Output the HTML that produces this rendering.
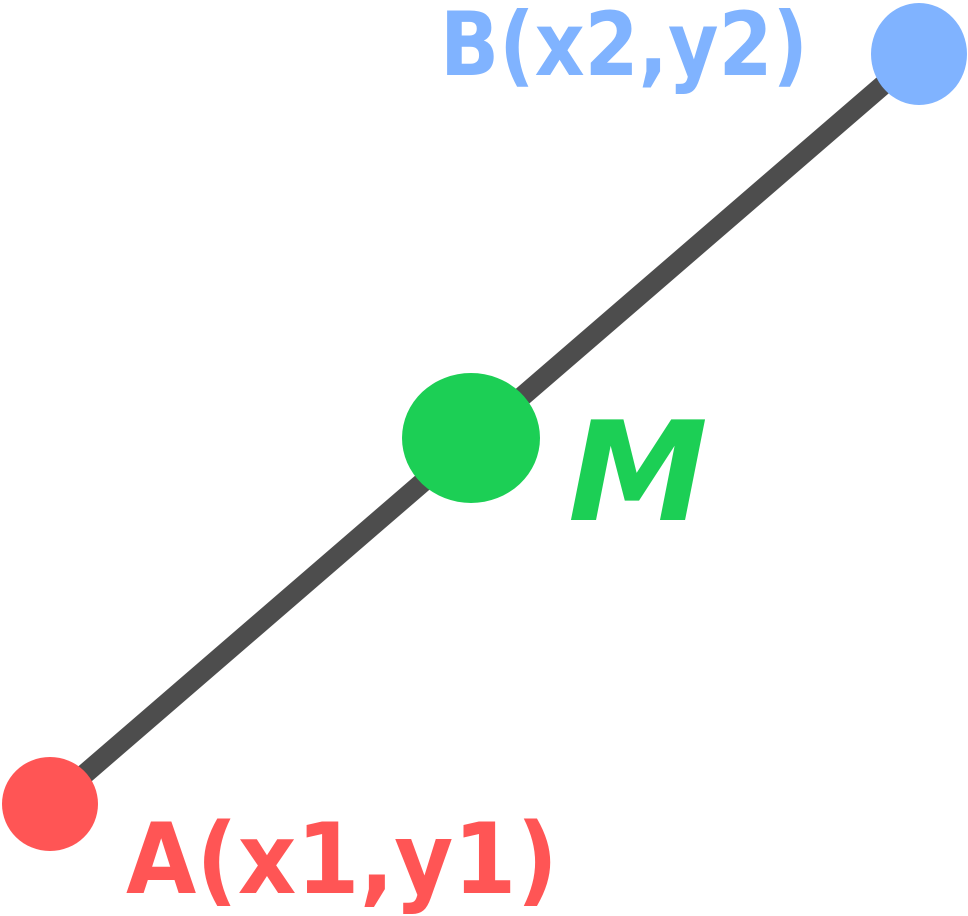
<!DOCTYPE html>
<html><head><meta charset="utf-8"><style>
html,body{margin:0;padding:0;background:#fff;}
svg{display:block}
</style></head><body>
<svg width="968" height="916" viewBox="0 0 968 916" xmlns="http://www.w3.org/2000/svg">
<line x1="50" y1="804" x2="919" y2="54" stroke="#4d4d4d" stroke-width="20"/>
<ellipse cx="50" cy="804" rx="48" ry="47" fill="#ff5555"/>
<ellipse cx="919" cy="54" rx="48" ry="51" fill="#80b3ff"/>
<ellipse cx="471" cy="438" rx="69" ry="65" fill="#1ccf55"/>
<text x="440" y="75" font-family="DejaVu Sans, sans-serif" font-weight="bold" font-size="88" fill="#80b3ff" textLength="368" lengthAdjust="spacingAndGlyphs">B(x2,y2)</text>
<text x="126" y="893" font-family="DejaVu Sans, sans-serif" font-weight="bold" font-size="98" fill="#ff5555" textLength="432" lengthAdjust="spacingAndGlyphs">A(x1,y1)</text>
<text x="568" y="520" font-family="DejaVu Sans, sans-serif" font-weight="bold" font-style="oblique" font-size="138" fill="#1ccf55" textLength="140" lengthAdjust="spacingAndGlyphs">M</text>
</svg>
</body></html>
